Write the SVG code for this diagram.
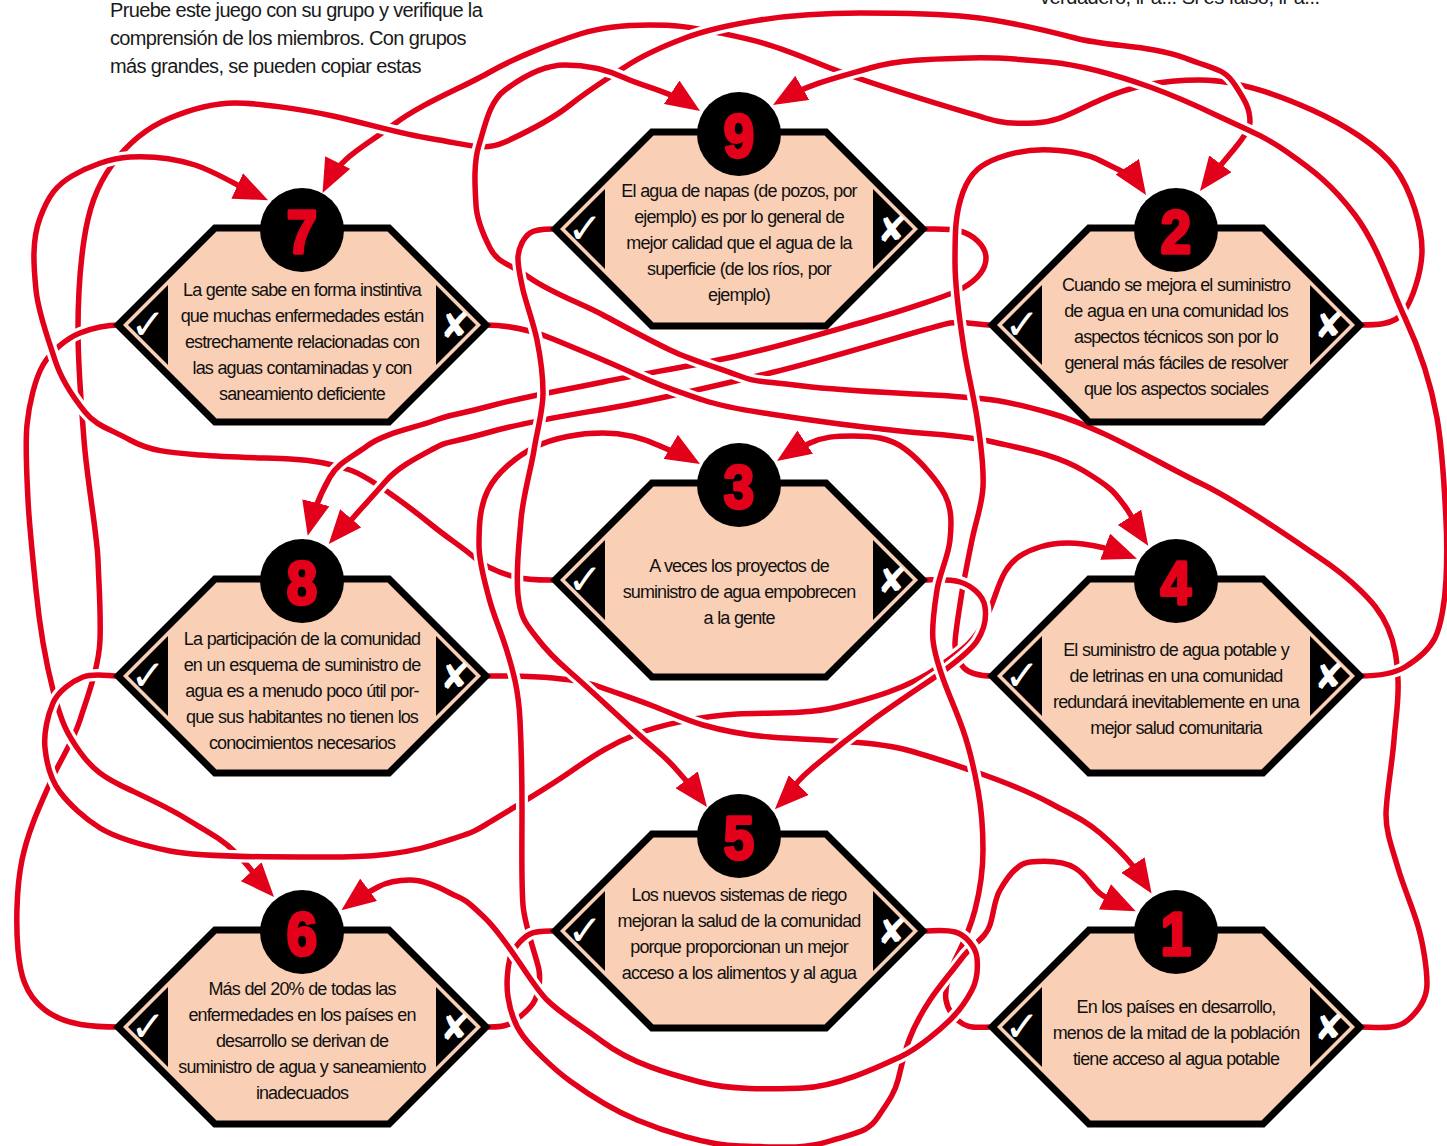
<svg xmlns="http://www.w3.org/2000/svg" width="1447" height="1146" viewBox="0 0 1447 1146">
<defs>
<style>
.intro{font-family:"Liberation Sans",Arial,sans-serif;font-size:20px;letter-spacing:-0.65px;fill:#1a1a1a}
.t{font-family:"Liberation Sans",Arial,sans-serif;font-size:18px;letter-spacing:-0.9px;word-spacing:0.5px;fill:#111;text-anchor:middle}
.num{font-family:"Liberation Sans",Arial,sans-serif;font-weight:bold;font-size:62px;fill:#e2001a;stroke:#e2001a;stroke-width:3.5;stroke-linejoin:round;text-anchor:middle}
.ck{font-family:"DejaVu Sans",sans-serif;font-size:42px;fill:#fff;text-anchor:middle}
.cx{font-family:"DejaVu Sans",sans-serif;font-size:36px;fill:#fff;text-anchor:middle}
.hex{fill:#f9cfb5;stroke:#000;stroke-width:7;stroke-linejoin:miter}
.halo{fill:none;stroke:#fff;stroke-width:12}
.wire{fill:none;stroke:#e2001a;stroke-width:5.5;marker-end:url(#ah)}
</style>
<marker id="ah" markerUnits="userSpaceOnUse" markerWidth="34" markerHeight="28" viewBox="0 0 34 28" refX="24" refY="14" orient="auto"><path d="M0,0 L34,14 L0,28 Z" fill="#e2001a"/></marker>
<polygon id="hexshape" points="-87,-97 87,-97 184,0 87,97 -87,97 -184,0"/>
<path id="tabs" d="M-134,-40 L-134,40 L-174,0 Z M134,-40 L134,40 L174,0 Z"/>
<path id="p1" d="M1360,325 C1375,325 1394,325 1403,313 S1422,272 1422,250 S1412,191 1395,168 S1343,124 1312,110 S1239,80 1200,80 S1131,86 1100,100 S1058,122 1035,123 S1001,123 985,118 S871,85 820,64 S754,40 720,33 S673,25 650,25 S602,27 580,34 S518,56 490,72 S422,103 393,125 S340.5,157 327,184"/>
<path id="p2" d="M120,1027 C94,1027 66,1026 45,1010 S20,972 18,950 S16,889 22,860 S39,808 50,783 S73,742 80,720 S99,667 100,640 S99,587 98,560 S87,480 84,440 S78,367 78,330 S79.5,270 84,240 S96,187 112,165 S147,127.5 170,118 S213,103 235,103 S301,109 333,116 S400,134 433,139 S483,152 505,142 S550.5,120.5 570,105 S607,79 625,67 S664.5,45.7 685,38 S734.5,24 760,20 S827,13 860,13 S933,13 970,17 S1041,29 1075,38 S1151,45 1185,58 S1224.5,69 1235,85 S1250,109 1250,122 S1221,163 1206,183"/>
<path id="p3" d="M120,325 C106,325 92.6,328 80,333 S51,351 43,365 S29,404 27,425 S26.8,475 28,500 S33,560 36,590 S44.5,657 53,690 S67,734 80,752 S104.7,777.4 120,785 S164.6,805.5 185,818 S220.6,838 235,852 S256.6,877.7 267.3,889.5"/>
<path id="p4" d="M555,580 C542,580 527.4,580.3 515,577 S486.3,567.8 475,558 S446.9,537.3 433,526 S407.8,506.1 395,497 S365.8,475.6 350,470 S310,460 290,459 S230,457.4 200,455 S150.9,451.5 130,440 S96.2,426 85,412 S61,379 55,360 S38.4,314 36,290 S31.6,240.6 40,218 S56.7,185 72,176 S110,158 130,157 S174.1,158.4 195,165 S238.7,186.7 259,196"/>
<path id="p5" d="M992,325 C978,325 963.7,320.9 950,323 S828.2,359.2 770,373 S681,394 637,403 S538,418.5 490,432 S450.6,439.6 433,449 S397.4,467.6 385,482 S363.4,505.8 353,518 S340.4,530.4 335.2,536.5"/>
<path id="p6" d="M923,229 C935,229 948.4,228 960,231 S986,245 986,258 S974,281.5 963,288 S900.7,311.4 870,320 S781.6,346 737,356 S646.6,373 603,382 S526.5,396.1 490,406 S451.6,414 433,421 S385.4,432.7 367,446 S338,463.2 330,477 S314.2,509.4 310.1,526"/>
<path id="p7" d="M485,325 C508,325 531.8,330.3 553,339 S610,362.4 637,375 S681.4,392.6 703,400 S747.5,410.5 770,414 S856.4,426.6 900,431 S963.2,435.2 993,442 S1056.8,454.4 1084,471 S1113.8,491.4 1124,505 S1136.7,528.2 1142.7,537.3"/>
<path id="p8" d="M1360,1027 C1376,1027 1396,1030.6 1408,1020 S1427,998 1427,984 S1423.6,945.2 1418,926 S1403.6,887.2 1398,868 S1386,833 1386,815 S1392,765 1394,740 S1399,700 1398,680 S1395.2,644.6 1388,628 S1371.5,601.2 1360,590 S1334.1,567.4 1320,558 S1242.3,503.2 1200,483 S1102.8,427.9 1050,413 S984,398.7 950,396 S851,391.9 803,386 S757.5,382.7 737,375 S691.6,360.3 670,350 S625,326.8 603,315 S552.1,293.4 530,278 S497.7,263.1 490,248 S476.8,220 476,205 S473,164 479,145 S489,102 505,90 S543,65 565,65 S607,69.6 625,78 S671.8,92.3 691.7,105.5"/>
<path id="p9" d="M1360,676 C1375,676 1392.2,674.8 1405,667 S1428.7,650.6 1435,638 S1445,600 1446,580 S1447,540 1446,520 S1442.8,451.3 1437,418 S1419.7,349.5 1405,318 S1377.8,245.4 1355,215 S1312.4,169.7 1287,152 S1241.4,127.2 1218,116 S1173.3,95.3 1150,87 S1083.7,65.4 1050,62 S997,57.2 970,58 S901.7,58.8 870,68 S810.8,83 781.6,100"/>
<path id="p10" d="M992,676 C982,676 971,675 964,668 S955.4,653 955,645 S958.6,613.8 961,598 S968,559.6 972,540 S982.1,505 983,487 S980.5,440.8 977,418 S967.5,371.8 964,349 S955,291 955,262 S955,213.6 963,192 S983.1,163.6 998,158 S1033,149.1 1051,150 S1086,153 1101,161 S1131.7,173.4 1140.5,186.7"/>
<path id="p11" d="M120,676 C108,676 93.8,672.8 83,677 S58.2,691 53,703 S43.5,733 45,748 S51,780 60,792 S84.7,818.6 100,828 S145.7,846 170,851 S257,857 300,857 S390.2,858.5 433,845 S473,832.6 490,822 S544.6,789.7 570,772 S612.8,743.4 637,734 S703,715.7 737,714 S805,714.9 837,707 S907.5,688.5 937,668 S974.6,640.5 985,620 S996.5,586.8 1005,572 S1026.7,551.2 1040,547 S1069,542.3 1083,544 S1113.6,549.9 1127.6,555.2"/>
<path id="p12" d="M485,676 C508,676 530.2,675.7 553,678 S587,682.2 603,688 S636.3,699.5 653,706 S685.7,720.1 703,725 S747,735.2 770,737 S815,739.7 837,741 S881.7,743.7 903,749 S948.1,762.6 970,770 S1024.5,789.4 1050,803 S1085.6,820.6 1100,833 S1123.1,853.5 1133,866 S1142.2,879.2 1146.1,885.1"/>
<path id="p13" d="M485,1027 C494,1027 505.8,1027.4 513,1022 S531,1009.2 535,1000 S540.5,979.9 539,970 S524.8,927 523,905 S522,842 522,811 S521.5,750 520,720 S513.2,670.8 506,648 S493.5,615.5 489,598 S479,563 479,545 S479.4,507.1 488,490 S516.1,456.5 535,447 S580,433 603,433 S642.9,438 660,446 S681.9,453.4 691.4,459"/>
<path id="p14" d="M555,229 C547,229 536.4,228.6 530,233 S518.5,248 518,257 S520.6,279.3 523,290 S533.6,323.3 537,340 S543,375 543,393 S536.9,431.2 534,450 S522.9,496 521,520 S515.5,570 518,595 S527.4,625.2 537,638 S557.8,661.6 570,672 S614.8,712.9 637,733 S663.8,755.2 675,768 S693.2,788.6 701,799"/>
<path id="p15" d="M923,580 C935,580 948.6,578.4 960,582 S983.2,595 985,607 S983.6,631 977,641 S956.2,661.6 945,670 S894,704 870,722 S829.8,753.1 810,770 S791,792.9 781.9,802.1"/>
<path id="p16" d="M992,1027 C982,1027 971.5,1029 963,1024 S947.5,1009.9 946,1000 S948.7,972.5 955,960 S970.5,927.5 975,910 S983,870 983,850 S981.6,809.6 978,790 S969.9,749.7 963,730 S950.6,699 945,684 S934.5,655 933,640 S934.4,606.8 937,590 S948.3,557 950,540 S951.8,508.5 945,495 S921,461 905,449 S871,436 853,436 S823.5,436.7 810,443 S792.8,450.5 785.3,455.5"/>
<path id="p17" d="M555,931 C547,931 537,930.4 530,934 S512.5,948.3 510,958 S506,984.1 508,997 S514.6,1024.8 523,1036 S552.4,1068.2 570,1081 S613.1,1110.1 637,1120 S705,1145.3 740,1146 S801.5,1150 830,1141 S868.1,1131.9 878,1117 S894.5,1093.6 898,1080 S904.1,1053.2 909,1040 S921.7,1012.6 930,1000 S951.2,972.4 962,958 S985.8,938.3 990,925 S994,900.4 1000,890 S1016,863.4 1030,862 S1062.2,860.2 1075,868 S1091.6,887.8 1102,895 S1119.5,903.7 1126.7,907.1"/>
<path id="p18" d="M923,931 C934,931 944.3,929.2 955,932 S975.9,947 977,958 S977,980.2 972,990 S958.6,1011.6 950,1020 S918.9,1048.2 900,1057 S837,1087 803,1088 S733,1090.5 700,1082 S631,1063 603,1042 S563.6,1016.1 547,1000 S509.5,941.8 485,918 S462.3,899.7 450,893 S424,880 410,880 S387.7,881.8 378,887 S357.4,898.2 349.4,904.2"/>
</defs>
<rect width="1447" height="1146" fill="#fff"/>
<g id="intro">
<text class="intro" x="110" y="17">Pruebe este juego con su grupo y verifique la</text>
<text class="intro" x="110" y="45">comprensión de los miembros. Con grupos</text>
<text class="intro" x="110" y="73">más grandes, se pueden copiar estas</text>
<text class="intro" x="1040" y="4" style="letter-spacing:-0.5px">verdadero, ir a... Si es falso, ir a...</text>
</g>
<g id="connectors">
<use href="#p1" class="halo"/><use href="#p1" class="wire"/>
<use href="#p2" class="halo"/><use href="#p2" class="wire"/>
<use href="#p3" class="halo"/><use href="#p3" class="wire"/>
<use href="#p4" class="halo"/><use href="#p4" class="wire"/>
<use href="#p5" class="halo"/><use href="#p5" class="wire"/>
<use href="#p6" class="halo"/><use href="#p6" class="wire"/>
<use href="#p7" class="halo"/><use href="#p7" class="wire"/>
<use href="#p8" class="halo"/><use href="#p8" class="wire"/>
<use href="#p9" class="halo"/><use href="#p9" class="wire"/>
<use href="#p10" class="halo"/><use href="#p10" class="wire"/>
<use href="#p11" class="halo"/><use href="#p11" class="wire"/>
<use href="#p12" class="halo"/><use href="#p12" class="wire"/>
<use href="#p13" class="halo"/><use href="#p13" class="wire"/>
<use href="#p14" class="halo"/><use href="#p14" class="wire"/>
<use href="#p15" class="halo"/><use href="#p15" class="wire"/>
<use href="#p16" class="halo"/><use href="#p16" class="wire"/>
<use href="#p17" class="halo"/><use href="#p17" class="wire"/>
<use href="#p18" class="halo"/><use href="#p18" class="wire"/>
</g>
<g id="node-7" transform="translate(302,325)">
<use href="#hexshape" class="hex"/><use href="#tabs"/><circle cx="0" cy="-95" r="42"/>
<text class="num" transform="translate(0,-72) scale(0.88,1)">7</text>
<text class="ck" x="-154" y="14">✓</text><text class="cx" x="153" y="13">✘</text>
<text class="t" x="0" y="-29">La gente sabe en forma instintiva</text>
<text class="t" x="0" y="-3">que muchas enfermedades están</text>
<text class="t" x="0" y="23">estrechamente relacionadas con</text>
<text class="t" x="0" y="49">las aguas contaminadas y con</text>
<text class="t" x="0" y="75">saneamiento deficiente</text>
</g>
<g id="node-9" transform="translate(739,229)">
<use href="#hexshape" class="hex"/><use href="#tabs"/><circle cx="0" cy="-95" r="42"/>
<text class="num" transform="translate(0,-72) scale(0.88,1)">9</text>
<text class="ck" x="-154" y="14">✓</text><text class="cx" x="153" y="13">✘</text>
<text class="t" x="0" y="-32">El agua de napas (de pozos, por</text>
<text class="t" x="0" y="-6">ejemplo) es por lo general de</text>
<text class="t" x="0" y="20">mejor calidad que el agua de la</text>
<text class="t" x="0" y="46">superficie (de los ríos, por</text>
<text class="t" x="0" y="72">ejemplo)</text>
</g>
<g id="node-2" transform="translate(1176,325)">
<use href="#hexshape" class="hex"/><use href="#tabs"/><circle cx="0" cy="-95" r="42"/>
<text class="num" transform="translate(0,-72) scale(0.88,1)">2</text>
<text class="ck" x="-154" y="14">✓</text><text class="cx" x="153" y="13">✘</text>
<text class="t" x="0" y="-34">Cuando se mejora el suministro</text>
<text class="t" x="0" y="-8">de agua en una comunidad los</text>
<text class="t" x="0" y="18">aspectos técnicos son por lo</text>
<text class="t" x="0" y="44">general más fáciles de resolver</text>
<text class="t" x="0" y="70">que los aspectos sociales</text>
</g>
<g id="node-8" transform="translate(302,676)">
<use href="#hexshape" class="hex"/><use href="#tabs"/><circle cx="0" cy="-95" r="42"/>
<text class="num" transform="translate(0,-72) scale(0.88,1)">8</text>
<text class="ck" x="-154" y="14">✓</text><text class="cx" x="153" y="13">✘</text>
<text class="t" x="0" y="-31">La participación de la comunidad</text>
<text class="t" x="0" y="-5">en un esquema de suministro de</text>
<text class="t" x="0" y="21">agua es a menudo poco útil por-</text>
<text class="t" x="0" y="47">que sus habitantes no tienen los</text>
<text class="t" x="0" y="73">conocimientos necesarios</text>
</g>
<g id="node-3" transform="translate(739,580)">
<use href="#hexshape" class="hex"/><use href="#tabs"/><circle cx="0" cy="-95" r="42"/>
<text class="num" transform="translate(0,-72) scale(0.88,1)">3</text>
<text class="ck" x="-154" y="14">✓</text><text class="cx" x="153" y="13">✘</text>
<text class="t" x="0" y="-8">A veces los proyectos de</text>
<text class="t" x="0" y="18">suministro de agua empobrecen</text>
<text class="t" x="0" y="44">a la gente</text>
</g>
<g id="node-4" transform="translate(1176,676)">
<use href="#hexshape" class="hex"/><use href="#tabs"/><circle cx="0" cy="-95" r="42"/>
<text class="num" transform="translate(0,-72) scale(0.88,1)">4</text>
<text class="ck" x="-154" y="14">✓</text><text class="cx" x="153" y="13">✘</text>
<text class="t" x="0" y="-20">El suministro de agua potable y</text>
<text class="t" x="0" y="6">de letrinas en una comunidad</text>
<text class="t" x="0" y="32">redundará inevitablemente en una</text>
<text class="t" x="0" y="58">mejor salud comunitaria</text>
</g>
<g id="node-6" transform="translate(302,1027)">
<use href="#hexshape" class="hex"/><use href="#tabs"/><circle cx="0" cy="-95" r="42"/>
<text class="num" transform="translate(0,-72) scale(0.88,1)">6</text>
<text class="ck" x="-154" y="14">✓</text><text class="cx" x="153" y="13">✘</text>
<text class="t" x="0" y="-32">Más del 20% de todas las</text>
<text class="t" x="0" y="-6">enfermedades en los países en</text>
<text class="t" x="0" y="20">desarrollo se derivan de</text>
<text class="t" x="0" y="46">suministro de agua y saneamiento</text>
<text class="t" x="0" y="72">inadecuados</text>
</g>
<g id="node-5" transform="translate(739,931)">
<use href="#hexshape" class="hex"/><use href="#tabs"/><circle cx="0" cy="-95" r="42"/>
<text class="num" transform="translate(0,-72) scale(0.88,1)">5</text>
<text class="ck" x="-154" y="14">✓</text><text class="cx" x="153" y="13">✘</text>
<text class="t" x="0" y="-30">Los nuevos sistemas de riego</text>
<text class="t" x="0" y="-4">mejoran la salud de la comunidad</text>
<text class="t" x="0" y="22">porque proporcionan un mejor</text>
<text class="t" x="0" y="48">acceso a los alimentos y al agua</text>
</g>
<g id="node-1" transform="translate(1176,1027)">
<use href="#hexshape" class="hex"/><use href="#tabs"/><circle cx="0" cy="-95" r="42"/>
<text class="num" transform="translate(0,-72) scale(0.88,1)">1</text>
<text class="ck" x="-154" y="14">✓</text><text class="cx" x="153" y="13">✘</text>
<text class="t" x="0" y="-14">En los países en desarrollo,</text>
<text class="t" x="0" y="12">menos de la mitad de la población</text>
<text class="t" x="0" y="38">tiene acceso al agua potable</text>
</g>
</svg>
